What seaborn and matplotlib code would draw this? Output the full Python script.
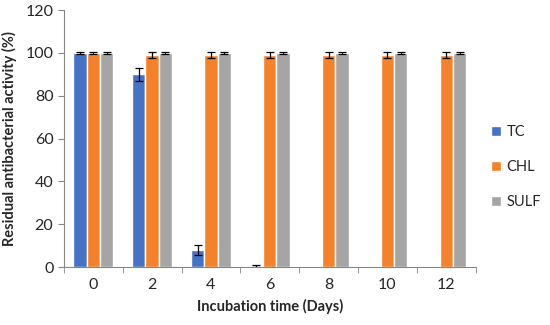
import numpy as np
import pandas as pd
import matplotlib
matplotlib.use("Agg")
import matplotlib.pyplot as plt
import seaborn as sns

# values
days = ["0", "2", "4", "6", "8", "10", "12"]
drugs = ["TC", "CHL", "SULF"]
tc = [100, 90, 8, 0.5, 0, 0, 0]
tc_err = [0.3, 3, 2.5, 0.3, 0, 0, 0]
chl = [100, 99, 99, 99, 99, 99, 99]
chl_err = [0.3, 1.3, 1.3, 1.3, 1.3, 1.3, 1.3]
sulf = [100, 100, 100, 100, 100, 100, 100]
sulf_err = [0.3, 0.5, 0.3, 0.5, 0.6, 0.3, 0.3]
colors = ["#4472C4", "#F5822A", "#A5A5A5"]

dt = pd.DataFrame({
    "day": days * 3,
    "drug": np.repeat(drugs, len(days)),
    "activity": tc + chl + sulf,
    "err": tc_err + chl_err + sulf_err,
})

sns.set_style("white")
plt.rcParams["font.family"] = ["Lato", "DejaVu Sans"]

fig = plt.figure(figsize=(5.5, 3.25), dpi=100)
ax = fig.add_axes([0.116, 0.178, 0.749, 0.791])
sns.barplot(data=dt, x="day", y="activity", hue="drug", order=days, hue_order=drugs,
            palette=colors, width=0.68, errorbar=None, saturation=1, ax=ax)

# error bars placed on the bars seaborn drew
for cont, drug in zip(ax.containers, drugs):
    sub = dt[dt.drug == drug]
    for bar, v, e in zip(cont, sub.activity, sub.err):
        if v <= 0:
            continue
        ax.errorbar(bar.get_x() + bar.get_width() / 2, v, yerr=e, fmt="none",
                    ecolor="black", elinewidth=0.9, capsize=3, capthick=0.9)

ax.set_ylim(0, 120)
ax.set_yticks(range(0, 121, 20))
ax.set_xlim(-0.5, len(days) - 0.5)
ax.set_xticks(np.arange(-0.5, len(days)), minor=True)
ax.tick_params(axis="x", which="major", length=0, labelsize=11.5, pad=8)
ax.tick_params(axis="x", which="minor", length=4, color="#868686", direction="out", bottom=True)
ax.tick_params(axis="y", length=4, color="#868686", direction="out", left=True, labelsize=11.5)
sns.despine(ax=ax)
for s in ["left", "bottom"]:
    ax.spines[s].set_color("#868686")
ax.set_xlabel("Incubation time (Days)", fontsize=10.5, fontweight="bold", labelpad=5)
ax.set_ylabel("Residual antibacterial activity (%)", fontsize=10.5, fontweight="bold", labelpad=6)

ax.legend(title=None, frameon=False, loc="center left", bbox_to_anchor=(0.893, 0.486),
          bbox_transform=fig.transFigure, fontsize=10.5, labelspacing=1.45, borderpad=0,
          borderaxespad=0, handlelength=0.7, handleheight=0.7, handletextpad=0.35)

fig.savefig("out.png", dpi=100)
